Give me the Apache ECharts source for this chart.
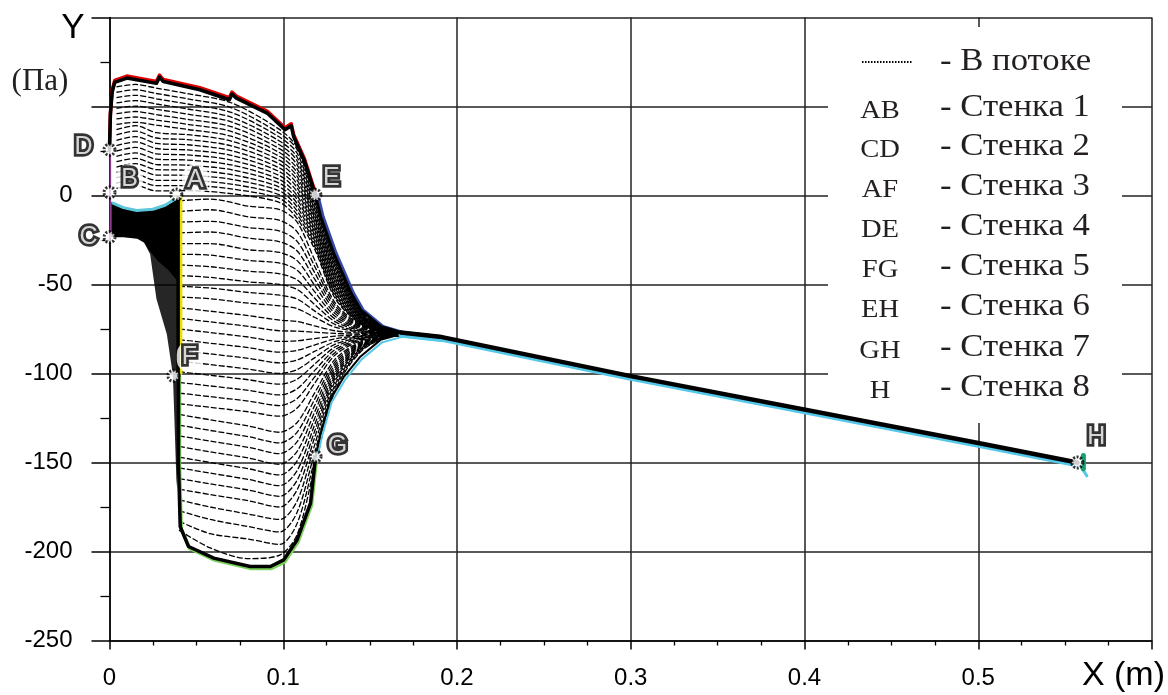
<!DOCTYPE html>
<html>
<head>
<meta charset="utf-8">
<script src="https://cdn.jsdelivr.net/npm/echarts@6/dist/echarts.min.js"></script>
<style>
  html, body { margin: 0; padding: 0; background: #fff; }
  #chart { width: 1168px; height: 695px; }
</style>
</head>
<body>
<div id="chart"></div>
<script>
// tick labels (empty where the picture shows an axis title instead)
const xTickLabels = ['0', '0.1', '0.2', '0.3', '0.4', '0.5', '']
const yTickLabels = ['-250', '-200', '-150', '-100', '-50', '0', '', '']

// flow lines that start at the left wall (x = 0), read at these x positions
const upperX = [0.004, 0.015, 0.027, 0.045, 0.07, 0.098, 0.108, 0.118, 0.13, 0.145, 0.162, 0.178]
const upperLines = [
  [61, 62.4, 60.3, 57.2, 52.1, 37, 27, 0, -36, -65.5, -76.3, -78.5],
  [58, 59.4, 57.3, 54.3, 49.4, 34.8, 25.8, -1.6, -37.2, -65.9, -76.4, -78.5],
  [55, 56.3, 54.3, 51.4, 46.7, 32.7, 23.7, -3.2, -38.3, -66.3, -76.4, -78.5],
  [52, 53.3, 51.4, 48.6, 44, 30.5, 21.5, -4.7, -39.5, -66.7, -76.5, -78.5],
  [49, 50.2, 48.4, 45.7, 41.4, 28.4, 19.4, -6.3, -40.6, -67.1, -76.6, -78.5],
  [46, 47.2, 45.4, 42.8, 38.7, 26.2, 17.2, -7.9, -41.8, -67.5, -76.6, -78.5],
  [43, 44.1, 42.4, 40, 36, 24, 15, -9.5, -43, -67.8, -76.7, -78.5],
  [40, 41.1, 39.5, 37.1, 33.3, 21.9, 12.9, -11.1, -44.1, -68.2, -76.8, -78.5],
  [37, 39.2, 35.3, 34.2, 30.6, 19.7, 10.7, -12.6, -45.3, -68.6, -76.9, -78.5],
  [34, 36.2, 32.3, 31.4, 27.9, 17.6, 8.6, -14.2, -46.4, -69, -76.9, -78.5],
  [31, 33.1, 29.3, 28.5, 25.2, 15.4, 6.4, -15.8, -47.6, -69.4, -77, -78.5],
  [28, 30.1, 26.4, 25.6, 22.6, 13.3, 4.3, -17.4, -48.8, -69.8, -77.1, -78.5],
  [25, 27, 23.4, 22.8, 19.9, 11.1, 2.1, -19, -49.9, -70.2, -77.1, -78.5],
  [22, 24, 20.4, 19.9, 17.2, 8.9, -0.1, -20.5, -51.1, -70.6, -77.2, -78.5],
  [19, 20.9, 17.4, 17, 14.5, 6.8, -2.2, -22.1, -52.2, -71, -77.3, -78.5],
  [16, 17.9, 14.5, 14.2, 11.8, 4.6, -4.4, -23.7, -53.4, -71.4, -77.4, -78.5],
  [13, 14.8, 11.5, 11.3, 9.1, 2.5, -6.5, -25.3, -54.6, -71.7, -77.4, -78.5],
  [10, 11.8, 8.5, 8.4, 6.4, 0.3, -8.7, -26.9, -55.7, -72.1, -77.5, -78.5],
  [7, 8.7, 5.5, 5.6, 3.7, -1.8, -10.8, -28.4, -56.9, -72.3, -77.6, -78.5],
  [4, 5.7, 2.6, 2.7, 1, -4, -13, -30, -58, -72.5, -77.6, -78.5],
]

// flow lines that start at wall AF / FG (x = 0.04)
const wallX = [0.04, 0.058, 0.08, 0.098, 0.108, 0.118, 0.13, 0.145, 0.162, 0.178]
const wallLines = [
  [-3, -2, -6, -8, -15, -36, -60.5, -72.8, -77.3, -78.5],
  [-9, -8, -12, -14, -20.4, -39.6, -62, -73.2, -77.4, -78.5],
  [-15, -14.5, -18, -20, -25.8, -43.2, -63.5, -73.7, -77.4, -78.5],
  [-21, -20.5, -24, -26, -31.2, -46.8, -65, -74.1, -77.5, -78.5],
  [-27, -27, -30.5, -32, -36.6, -50.4, -66.5, -74.6, -77.5, -78.5],
  [-33, -33.5, -36.5, -38, -42, -54, -68, -75, -77.6, -78.5],
  [-39, -40, -42.5, -44, -47.4, -57.6, -69.5, -75.5, -77.7, -78.5],
  [-45, -46, -48.5, -50, -52.8, -61.2, -71, -75.9, -77.7, -78.5],
  [-51, -52, -54.5, -56, -58.2, -64.8, -72.5, -76.4, -77.8, -78.5],
  [-57, -58, -60.5, -62, -63.6, -68.4, -74, -76.8, -77.8, -78.5],
  [-63, -65, -67.5, -70, -70.8, -73.2, -76, -77.4, -77.9, -78.5],
  [-69, -71, -73.5, -76, -76.2, -76.8, -77.5, -77.9, -78, -78.5],
  [-75, -77, -79.5, -82, -81.6, -80.4, -79, -78.3, -78.1, -78.5],
  [-81, -83, -85.5, -88, -87, -84, -80.5, -78.8, -78.1, -78.5],
  [-87, -89, -91.5, -94, -92.4, -87.6, -82, -79.2, -78.2, -78.5],
  [-93, -95, -97.5, -100, -97.8, -91.2, -83.5, -79.7, -78.2, -78.5],
  [-99, -101, -103.5, -106, -103.2, -94.8, -85, -80.1, -78.3, -78.5],
  [-105, -107, -109.5, -112, -108.6, -98.4, -86.5, -80.6, -78.3, -78.5],
  [-111, -113, -115.5, -118, -114, -102, -88, -81, -78.4, -78.5],
  [-117, -119, -121.5, -124, -119.4, -105.6, -89.5, -81.5, -78.5, -78.5],
  [-123, -126, -129.5, -133, -127.5, -111, -91.8, -82.1, -78.6, -78.5],
  [-129, -132, -135.5, -139, -132.9, -114.6, -93.3, -82.6, -78.6, -78.5],
  [-135, -138, -141.5, -145, -138.3, -118.2, -94.8, -83, -78.7, -78.5],
  [-141, -144, -147.5, -151, -143.7, -121.8, -96.3, -83.5, -78.7, -78.5],
  [-147, -150, -153.5, -157, -149.1, -125.4, -97.8, -83.9, -78.8, -78.5],
  [-153, -156, -159.5, -163, -154.5, -129, -99.3, -84.4, -78.9, -78.5],
  [-159, -162, -165.5, -169, -159.9, -132.6, -100.8, -84.8, -78.9, -78.5],
  [-165, -168, -171.5, -175, -165.3, -136.2, -102.3, -85.3, -79, -78.5],
  [-171, -175, -179, -182, -171.6, -140.4, -104, -85.8, -79, -78.5],
  [-177, -182, -186, -189, -177.9, -144.6, -105.8, -86.3, -79.1, -78.5],
  [-183, -190, -193, -196, -184.2, -148.8, -107.5, -86.9, -79.2, -78.5],
  [-188, -198, -204, -202, -190.5, -153, -109.3, -87.4, -79.3, -78.5],
]

// walls
const wallAB = [[0.002, -4.3], [0.008, -6.8], [0.0157, -8.4], [0.025, -7.7], [0.032, -5.5], [0.037, -2.4]]
const wallCD = [[0.0005, -23.4], [0.0005, 25.7]]
const wallAF = [[0.0395, -1], [0.0395, -100]]
const wallDE = [[0, 25.7], [0.0005, 45], [0.0015, 58], [0.003, 63.5], [0.01, 66], [0.027, 63], [0.0288, 66.5],
  [0.031, 64], [0.052, 59.4], [0.069, 53.8], [0.0705, 57], [0.073, 54.7], [0.0907, 46.3], [0.101, 36.9],
  [0.1046, 39.2], [0.106, 33], [0.112, 20], [0.1185, 0.4]]
const wallFG = [[0.0397, -100], [0.0397, -150.4], [0.0407, -186], [0.0455, -197.2], [0.06, -203.7], [0.081, -208.4],
  [0.0926, -208.4], [0.1003, -204.7], [0.108, -193.4], [0.1157, -172.8], [0.1186, -146.6]]
const wallEH = [[0.1185, 0.4], [0.1215, -11.8], [0.129, -32.4], [0.139, -54.8], [0.1445, -64.2], [0.156, -73.6],
  [0.1676, -77], [0.19, -79.3]]
const tailEH = [[0.1676, -77], [0.19, -79.3], [0.3, -101.5], [0.5, -139], [0.557, -150]]
const wallGH = [[0.1186, -146.6], [0.1215, -133.5], [0.127, -114.8], [0.135, -101.7], [0.1445, -90.4], [0.156, -81.1],
  [0.1676, -78], [0.19, -80.3]]
const wallH = [[0.5575, -150], [0.5625, -157.5]]
const wallHGreen = [[0.5605, -146], [0.5605, -153.5]]

// dense zones near B-C-A
const blackPatch = [[0.001, -3.5], [0.008, -6.8], [0.016, -8.4], [0.025, -7.8], [0.032, -5.8], [0.038, -2.8],
  [0.039, -3], [0.039, -48], [0.034, -42], [0.028, -37], [0.023, -31], [0.02, -26.5], [0.016, -24.3],
  [0.008, -23.5], [0.001, -23.4]]
const darkPatch = [[0.02, -26.5], [0.039, -30], [0.039, -165], [0.0385, -160], [0.0375, -130], [0.0365, -101],
  [0.033, -78], [0.027, -58], [0.0234, -33]]

// marked points
const pointNames = ['A', 'B', 'C', 'D', 'E', 'F', 'G', 'H']
const pointX = [0.0385, 0, 0, 0, 0.1185, 0.0368, 0.1186, 0.557]
const pointY = [0.5, 1.7, -23.4, 25.7, 0.4, -101.3, -146.6, -150]

// legend
const legendCodes = ['', 'AB', 'CD', 'AF', 'DE', 'FG', 'EH', 'GH', 'H']
const legendNames = ['- В потоке', '- Стенка 1', '- Стенка 2', '- Стенка 3', '- Стенка 4',
  '- Стенка 5', '- Стенка 6', '- Стенка 7', '- Стенка 8']

const labelOffsets = {
  A: [19, -15], B: [20, -13], C: [-21, 0], D: [-26, -3],
  E: [16, -17], F: [16, -19], G: [22, -10], H: [19, -25],
}

function flowSeries(xs, ys) {
  return {
    type: 'line',
    data: xs.map((x, i) => [x, ys[i]]),
    symbol: 'none',
    smooth: 0.3,
    silent: true,
    z: 2,
    lineStyle: { color: '#000', width: 1.3, type: [6, 2] },
  }
}

function wallSeries(data, width, color, shadow, z) {
  const lineStyle = { color, width, cap: 'round', join: 'round' }
  if (shadow) {
    lineStyle.shadowColor = shadow.color
    lineStyle.shadowBlur = 0
    lineStyle.shadowOffsetX = shadow.dx || 0
    lineStyle.shadowOffsetY = shadow.dy || 0
  }
  return {
    type: 'line', data, symbol: 'none', silent: true, clip: false, z: z || 4, lineStyle,
  }
}

function patchSeries(points, fill) {
  return {
    type: 'custom',
    silent: true,
    z: 3,
    data: [0],
    renderItem: (params, api) => ({
      type: 'polygon',
      shape: { points: points.map((p) => api.coord(p)) },
      style: { fill },
    }),
  }
}

const series = []
upperLines.forEach((ys) => series.push(flowSeries(upperX, ys)))
wallLines.forEach((ys) => series.push(flowSeries(wallX, ys)))
series.push(patchSeries(darkPatch, 'rgba(0,0,0,0.85)'))
series.push(patchSeries(blackPatch, '#000'))
series.push(wallSeries(wallAB, 3, '#5cc6da'))
series.push(wallSeries(wallCD, 1.5, '#8b3a8f'))
series.push(wallSeries(wallAF, 3.5, '#000', { color: '#e8e000', dx: 2.5 }))
series.push(wallSeries(wallDE, 3.5, '#000', { color: '#e00000', dy: -2 }))
series.push(wallSeries(wallFG, 3.5, '#000', { color: '#7ccf5a', dy: 2, dx: 1 }))
series.push(wallSeries(wallEH, 3, '#000', { color: '#3448a8', dx: 2.5 }))
series.push(wallSeries(wallGH, 2, '#000', { color: '#54c8e8', dy: 2.5, dx: 1.5 }))
series.push(wallSeries(tailEH, 4.5, '#000', { color: '#54c8e8', dy: 2.5 }))
series.push(wallSeries(wallH, 3, '#54c8e8', null, 3))
series.push(wallSeries(wallHGreen, 5, '#16a070', null, 3))
series.push({
  type: 'scatter',
  silent: true,
  z: 6,
  symbol: 'circle',
  symbolSize: 11,
  itemStyle: { color: '#fff', borderColor: '#000', borderWidth: 3, borderType: [2, 1.5] },
  data: pointNames.map((name, i) => ({
    value: [pointX[i], pointY[i]],
    label: {
      show: true,
      position: 'inside',
      offset: labelOffsets[name],
      formatter: name,
    },
  })),
  label: {
    fontSize: 25,
    fontFamily: 'Liberation Sans',
    color: '#fff',
    textBorderColor: '#000',
    textBorderWidth: 5.5,
    backgroundColor: '#fff',
    borderRadius: 16,
    padding: [3, 5],
  },
})

const graphic = [
  { type: 'rect', shape: { x: 828, y: 27, width: 294, height: 396 }, style: { fill: '#fff' }, z: 1, silent: true },
  { type: 'line', shape: { x1: 862, y1: 62, x2: 913, y2: 62 }, style: { stroke: '#000', lineWidth: 2, lineDash: [1.5, 1.5] }, z: 100 },
  { type: 'text', x: 73, y: 28, style: { text: 'Y', font: '35px "Liberation Sans"', fill: '#000', align: 'center', verticalAlign: 'middle' }, z: 100 },
  { type: 'text', x: 40, y: 82, style: { text: '(Па)', font: '31px "Liberation Serif"', fill: '#222', align: 'center', verticalAlign: 'middle' }, z: 100 },
  { type: 'text', x: 1165, y: 676, style: { text: 'X (m)', font: '34px "Liberation Sans"', fill: '#000', align: 'right', verticalAlign: 'middle' }, z: 100 },
]
const rowY = [62, 108, 147, 187, 227, 267, 307, 348, 388]
legendNames.forEach((name, i) => {
  graphic.push({
    type: 'text', x: 940, y: rowY[i], z: 100, scaleX: 1.12,
    style: { text: name, font: '31px "Liberation Serif"', fill: '#231f20', align: 'left', verticalAlign: 'middle' },
  })
  if (legendCodes[i]) {
    graphic.push({
      type: 'text', x: 880, y: rowY[i] + 3, z: 100, scaleX: 1.1,
      style: { text: legendCodes[i], font: '26px "Liberation Serif"', fill: '#231f20', align: 'center', verticalAlign: 'middle' },
    })
  }
})

const chart = echarts.init(document.getElementById('chart'))
chart.setOption({
  animation: false,
  backgroundColor: '#fff',
  grid: { left: 109.5, right: 16, top: 17.5, bottom: 54.5 },
  xAxis: {
    type: 'value',
    min: 0,
    max: 0.6,
    interval: 0.1,
    axisLine: { show: true, onZero: false, lineStyle: { color: '#000', width: 1.5 } },
    axisTick: { show: true, length: 9, lineStyle: { color: '#000', width: 1.5 } },
    minorTick: { show: true, splitNumber: 4, length: 5, lineStyle: { color: '#000', width: 1.3 } },
    splitLine: { show: true, lineStyle: { color: '#222', width: 1.5 } },
    axisLabel: {
      fontSize: 24,
      fontFamily: 'Liberation Sans',
      color: '#000',
      margin: 26,
      formatter: (v) => xTickLabels[Math.round(v / 0.1)],
    },
  },
  yAxis: {
    type: 'value',
    min: -250,
    max: 100,
    interval: 50,
    axisLine: { show: true, onZero: false, lineStyle: { color: '#000', width: 1.5 } },
    axisTick: { show: true, length: 18, lineStyle: { color: '#000', width: 1.5 } },
    minorTick: { show: true, splitNumber: 2, length: 9, lineStyle: { color: '#000', width: 1.3 } },
    splitLine: { show: true, lineStyle: { color: '#222', width: 1.5 } },
    axisLabel: {
      fontSize: 24,
      fontFamily: 'Liberation Sans',
      color: '#000',
      margin: 37,
      formatter: (v) => yTickLabels[Math.round((v + 250) / 50)],
    },
  },
  graphic,
  series,
})
</script>
</body>
</html>
